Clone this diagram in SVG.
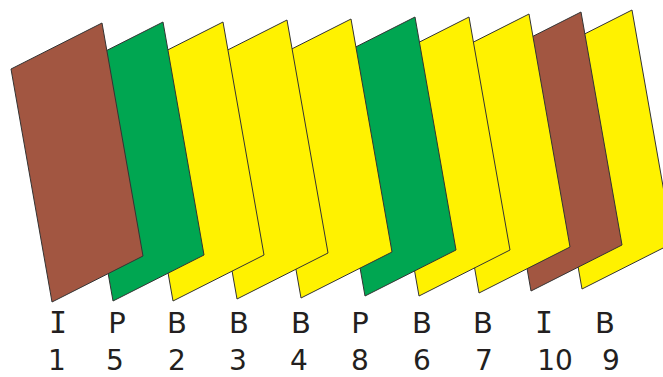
<svg xmlns="http://www.w3.org/2000/svg" width="663" height="377" viewBox="0 0 663 377">
<style>
.f{stroke:#333;stroke-width:1}
.I{fill:#A25641}
.P{fill:#00A651}
.B{fill:#FFF200}
text{font-family:"DejaVu Sans","Liberation Sans",sans-serif;font-size:29px;fill:#231F20;text-anchor:middle}
text.n{font-size:28px}
text.i{font-family:"DejaVu Sans Mono","Liberation Mono",monospace;font-size:30px}
</style>
<defs>
<path id="fr" d="M0,0 L91,-46 L50,-279 L-41,-233 Z"/>
</defs>
<g id="frames">
<g id="frame10"><use href="#fr" class="f B" x="582" y="289"/></g>
<g id="frame9"><use href="#fr" class="f I" x="531" y="291"/></g>
<g id="frame8"><use href="#fr" class="f B" x="479" y="293"/></g>
<g id="frame7"><use href="#fr" class="f B" x="419" y="296"/></g>
<g id="frame6"><use href="#fr" class="f P" x="365" y="296"/></g>
<g id="frame5"><use href="#fr" class="f B" x="301" y="298"/></g>
<g id="frame4"><use href="#fr" class="f B" x="237" y="299"/></g>
<g id="frame3"><use href="#fr" class="f B" x="173" y="301"/></g>
<g id="frame2"><use href="#fr" class="f P" x="113" y="301"/></g>
<g id="frame1"><use href="#fr" class="f I" x="52" y="302"/></g>
</g>
<g id="labels">
<text class="i" x="58" y="333">I</text>
<text x="117" y="333">P</text>
<text x="177" y="333">B</text>
<text x="239" y="333">B</text>
<text x="301" y="333">B</text>
<text x="360" y="333">P</text>
<text x="422" y="333">B</text>
<text x="483" y="333">B</text>
<text class="i" x="544" y="333">I</text>
<text x="605" y="333">B</text>
<text class="n" x="57" y="370">1</text>
<text class="n" x="115" y="370">5</text>
<text class="n" x="177" y="370">2</text>
<text class="n" x="238" y="370">3</text>
<text class="n" x="299" y="370">4</text>
<text class="n" x="360" y="370">8</text>
<text class="n" x="422" y="370">6</text>
<text class="n" x="484" y="370">7</text>
<text class="n" x="555" y="370">10</text>
<text class="n" x="611" y="370">9</text>
</g>
</svg>
